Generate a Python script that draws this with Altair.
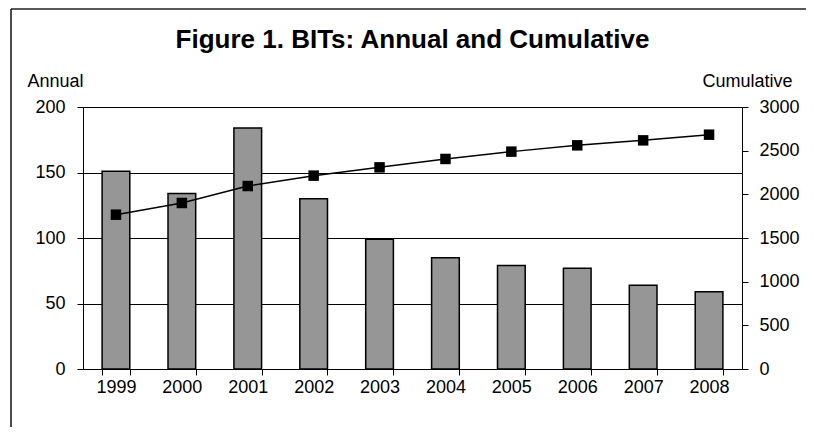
import altair as alt
import pandas as pd

years = ["1999", "2000", "2001", "2002", "2003", "2004", "2005", "2006", "2007", "2008"]
annual = [151, 134, 184, 130, 99, 85, 79, 77, 64, 59]
cumulative = [1767, 1901, 2095, 2214, 2309, 2405, 2489, 2561, 2618, 2683]

df = pd.DataFrame({"year": years, "annual": annual, "cumulative": cumulative})

W, H = 659, 262
FONT = "Liberation Sans"

xenc = alt.X(
    "year:N",
    sort=years,
    scale=alt.Scale(paddingInner=0.58, paddingOuter=0.29),
    axis=alt.Axis(
        title=None, labelAngle=0, labelFontSize=18, labelColor="black",
        labelPadding=3, tickBand="extent", tickSize=6, tickColor="black",
        domainColor="black", grid=False, labelFont=FONT,
    ),
)

bars = alt.Chart(df).mark_bar(
    color="#969696", stroke="black", strokeWidth=1.5
).encode(
    x=xenc,
    y=alt.Y(
        "annual:Q",
        scale=alt.Scale(domain=[0, 200], nice=False),
        axis=alt.Axis(
            title="Annual", titleAngle=0, titleAlign="left", titleBaseline="alphabetic",
            titleX=-56, titleY=-21, titleFontSize=18, titleFontWeight="normal",
            titleColor="black", titleFont=FONT,
            values=[0, 50, 100, 150, 200], labelFontSize=18, labelColor="black",
            labelFont=FONT, labelPadding=12, tickSize=6, tickColor="black",
            domainColor="black", grid=True, gridColor="black", gridWidth=1,
        ),
    ),
)

line_base = alt.Chart(df).encode(
    x=alt.X("year:N", sort=years),
    y=alt.Y(
        "cumulative:Q",
        scale=alt.Scale(domain=[0, 3000], nice=False),
        axis=alt.Axis(
            orient="right", title="Cumulative", titleAngle=0, titleAlign="right",
            titleBaseline="alphabetic", titleX=50, titleY=-21, titleFontSize=18,
            titleFontWeight="normal", titleColor="black", titleFont=FONT,
            values=[0, 500, 1000, 1500, 2000, 2500, 3000], format="d",
            labelFontSize=18, labelColor="black", labelFont=FONT, labelPadding=11,
            tickSize=6, tickColor="black", domainColor="black", grid=False,
        ),
    ),
)

line = line_base.mark_line(color="black", strokeWidth=1.5)
pts = line_base.mark_point(shape="square", filled=True, color="black", size=110, opacity=1)

one = pd.DataFrame({"a": [0]})
frame_top = alt.Chart(one).mark_rule(color="#222222", strokeWidth=1.5).encode(
    x=alt.value(-72), x2=alt.value(W + 100), y=alt.value(-98)
)
frame_left = alt.Chart(one).mark_rule(color="#111111", strokeWidth=1.5).encode(
    x=alt.value(-72), y=alt.value(-98), y2=alt.value(H + 100)
)

chart = alt.layer(frame_top, frame_left, bars, line + pts).resolve_scale(y="independent").properties(
    width=W,
    height=H,
    padding={"left": 75, "top": 99, "right": 64, "bottom": 58},
    autosize=alt.AutoSizeParams(type="none"),
    title=alt.TitleParams(
        "Figure 1. BITs: Annual and Cumulative", fontSize=26, fontWeight="bold",
        font=FONT, color="black", anchor="middle", frame="group",
        baseline="alphabetic", offset=0, dy=66,
    ),
).configure_view(stroke=None).configure(background="white")

chart.save("out.html", embed_options={"renderer": "svg", "actions": False})
